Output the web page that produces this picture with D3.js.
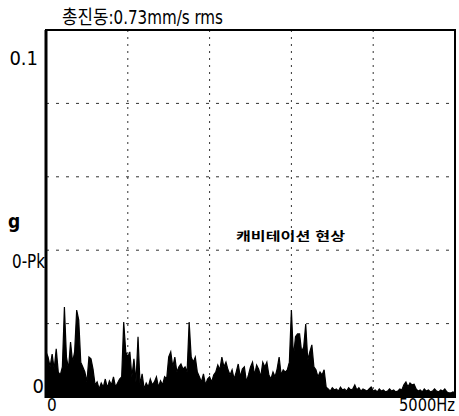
<!DOCTYPE html>
<html>
<head>
<meta charset="utf-8">
<script src="https://cdn.jsdelivr.net/npm/d3@7"></script>
<style>
  body { margin: 0; background: #fff; }
  text { font-family: "DejaVu Sans Condensed", "Noto Sans CJK KR", sans-serif; fill: #000; }
</style>
</head>
<body>
<div id="chart"></div>
<script>
// spectrum, 0..5000 Hz in 25 Hz bins, amplitude in g 0-Pk
const freqStep = 25;
const amplitude = [
  0.0123, 0.0109, 0.0082, 0.0117, 0.0076, 0.0131, 0.0068, 0.0060, 0.0082, 0.0245,
  0.0109, 0.0076, 0.0150, 0.0095, 0.0123, 0.0237, 0.0210, 0.0095, 0.0082, 0.0068,
  0.0041, 0.0109, 0.0104, 0.0076, 0.0033, 0.0041, 0.0022, 0.0038, 0.0027, 0.0049,
  0.0025, 0.0044, 0.0033, 0.0055, 0.0027, 0.0038, 0.0049, 0.0055, 0.0204, 0.0123,
  0.0109, 0.0123, 0.0055, 0.0104, 0.0041, 0.0164, 0.0033, 0.0063, 0.0022, 0.0038,
  0.0027, 0.0049, 0.0033, 0.0041, 0.0055, 0.0027, 0.0044, 0.0033, 0.0055, 0.0049,
  0.0109, 0.0123, 0.0082, 0.0109, 0.0068, 0.0082, 0.0090, 0.0076, 0.0082, 0.0068,
  0.0204, 0.0109, 0.0095, 0.0109, 0.0068, 0.0055, 0.0041, 0.0063, 0.0033, 0.0049,
  0.0055, 0.0041, 0.0060, 0.0068, 0.0087, 0.0074, 0.0109, 0.0082, 0.0095, 0.0074,
  0.0060, 0.0074, 0.0049, 0.0068, 0.0090, 0.0055, 0.0076, 0.0082, 0.0041, 0.0060,
  0.0082, 0.0095, 0.0060, 0.0087, 0.0076, 0.0055, 0.0095, 0.0082, 0.0095, 0.0060,
  0.0049, 0.0068, 0.0055, 0.0076, 0.0109, 0.0060, 0.0074, 0.0068, 0.0074, 0.0095,
  0.0237, 0.0109, 0.0164, 0.0172, 0.0172, 0.0123, 0.0136, 0.0199, 0.0101, 0.0123,
  0.0142, 0.0082, 0.0074, 0.0055, 0.0068, 0.0060, 0.0074, 0.0027, 0.0022, 0.0016,
  0.0025, 0.0019, 0.0022, 0.0016, 0.0027, 0.0019, 0.0022, 0.0016, 0.0025, 0.0019,
  0.0022, 0.0033, 0.0019, 0.0025, 0.0016, 0.0022, 0.0019, 0.0016, 0.0022, 0.0027,
  0.0016, 0.0019, 0.0014, 0.0022, 0.0016, 0.0019, 0.0014, 0.0016, 0.0022, 0.0016,
  0.0019, 0.0014, 0.0016, 0.0022, 0.0019, 0.0033, 0.0041, 0.0027, 0.0038, 0.0033,
  0.0035, 0.0022, 0.0016, 0.0019, 0.0014, 0.0022, 0.0016, 0.0019, 0.0014, 0.0016,
  0.0022, 0.0016, 0.0014, 0.0019, 0.0016, 0.0022, 0.0014, 0.0011, 0.0011, 0.0014,
  0.0011
];
const xGrid = [1000, 2000, 3000, 4000];
const yGrid = [0.02, 0.04, 0.06, 0.08];
const title = "총진동:0.73mm/s rms";
const note = "캐비테이션 현상";
const yTop = "0.1", yBottom = "0", yUnit = "g", yType = "0-Pk";
const xStart = "0", xEnd = "5000Hz";

const W = 459, H = 416;
const margin = { top: 30, right: 4, bottom: 19, left: 46 };
const w = W - margin.left - margin.right;
const h = H - margin.top - margin.bottom;

const svg = d3.select('#chart').append('svg')
  .attr('width', W).attr('height', H);

const g = svg.append('g')
  .attr('transform', `translate(${margin.left},${margin.top})`);

const x = d3.scaleLinear().domain([0, 5000]).range([0, w]);
const y = d3.scaleLinear().domain([0, 0.1]).range([h, 0]);

const data = amplitude.map((a, i) => ({ f: i * freqStep, a: a }));

// grid
g.append('g').selectAll('line').data(xGrid).join('line')
  .attr('x1', d => x(d)).attr('x2', d => x(d))
  .attr('y1', 0).attr('y2', h)
  .attr('stroke', '#333').attr('stroke-width', 1)
  .attr('stroke-dasharray', '2,5');

g.append('g').selectAll('line').data(yGrid).join('line')
  .attr('x1', 0).attr('x2', w)
  .attr('y1', d => y(d)).attr('y2', d => y(d))
  .attr('stroke', '#333').attr('stroke-width', 1)
  .attr('stroke-dasharray', '3,7');

// spectrum
g.append('path')
  .datum(data)
  .attr('fill', '#000')
  .attr('d', d3.area().x(d => x(d.f)).y0(h).y1(d => y(d.a)));

g.append('path')
  .datum(data)
  .attr('fill', 'none')
  .attr('stroke', '#000')
  .attr('stroke-width', 1.2)
  .attr('d', d3.line().x(d => x(d.f)).y(d => y(d.a)));

// frame
g.append('rect')
  .attr('x', 0).attr('y', 0).attr('width', w).attr('height', h)
  .attr('fill', 'none').attr('stroke', '#000').attr('stroke-width', 2);
g.append('line')
  .attr('x1', 0).attr('x2', 0).attr('y1', 0).attr('y2', h + 1)
  .attr('stroke', '#000').attr('stroke-width', 3);

// texts
svg.append('text')
  .attr('x', 62).attr('y', 24)
  .attr('font-size', 19)
  .attr('textLength', 161).attr('lengthAdjust', 'spacingAndGlyphs')
  .text(title);

svg.append('text')
  .attr('x', 38).attr('y', 65).attr('text-anchor', 'end')
  .attr('font-size', 20)
  .text(yTop);

svg.append('text')
  .attr('x', 14).attr('y', 228).attr('text-anchor', 'middle')
  .attr('font-size', 19).attr('font-weight', 'bold')
  .text(yUnit);

svg.append('text')
  .attr('x', 12).attr('y', 268)
  .attr('font-size', 20)
  .attr('textLength', 33).attr('lengthAdjust', 'spacingAndGlyphs')
  .text(yType);

svg.append('text')
  .attr('x', 44).attr('y', margin.top + y(0) - 4).attr('text-anchor', 'end')
  .attr('font-size', 20)
  .text(yBottom);

svg.append('text')
  .attr('x', margin.left + x(0) + 1).attr('y', 411)
  .attr('font-size', 17)
  .text(xStart);

svg.append('text')
  .attr('x', margin.left + x(5000)).attr('y', 411).attr('text-anchor', 'end')
  .attr('font-size', 17)
  .attr('textLength', 56).attr('lengthAdjust', 'spacingAndGlyphs')
  .text(xEnd);

svg.append('text')
  .attr('x', 236).attr('y', 241)
  .attr('font-size', 12).attr('font-weight', 'bold')
  .attr('font-family', '"Noto Sans CJK KR", sans-serif')
  .attr('textLength', 109).attr('lengthAdjust', 'spacingAndGlyphs')
  .text(note);
</script>
</body>
</html>
